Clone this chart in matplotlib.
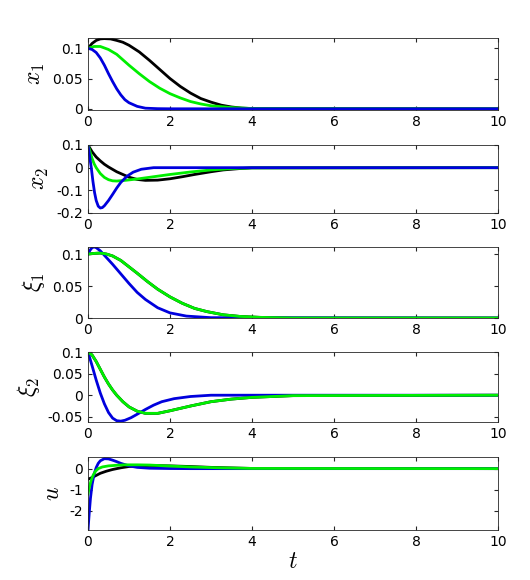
import matplotlib
matplotlib.use("Agg")
import matplotlib.pyplot as plt

plt.rcParams['mathtext.fontset'] = 'cm'

# x1
t_x1_k = [0, 0.1, 0.2, 0.3, 0.4, 0.55, 0.7, 0.85, 1.0, 1.25, 1.5, 1.75, 2.0, 2.25, 2.5, 2.75, 3.0, 3.25, 3.5, 3.75, 4.0, 10]
x1_k = [0.1, 0.108, 0.113, 0.1155, 0.116, 0.1155, 0.113, 0.11, 0.105, 0.094, 0.08, 0.065, 0.05, 0.037, 0.026, 0.017, 0.011, 0.006, 0.003, 0.0012, 0.0004, 0]
t_x1_g = [0, 0.15, 0.3, 0.5, 0.7, 0.85, 1.0, 1.25, 1.5, 1.75, 2.0, 2.25, 2.5, 2.75, 3.0, 3.5, 4.0, 10]
x1_g = [0.1, 0.103, 0.103, 0.098, 0.09, 0.081, 0.072, 0.058, 0.045, 0.034, 0.025, 0.018, 0.012, 0.008, 0.005, 0.002, 0.0005, 0]
t_x1_b = [0, 0.1, 0.2, 0.3, 0.4, 0.5, 0.6, 0.7, 0.8, 0.9, 1.0, 1.2, 1.4, 1.7, 2.0, 10]
x1_b = [0.1, 0.098, 0.093, 0.084, 0.072, 0.058, 0.045, 0.033, 0.023, 0.015, 0.01, 0.004, 0.001, 0.0002, 0, 0]
# x2
t_x2_k = [0, 0.1, 0.2, 0.3, 0.4, 0.5, 0.7, 0.85, 1.0, 1.2, 1.4, 1.7, 2.0, 2.3, 2.6, 3.0, 3.3, 3.7, 4.0, 10]
x2_k = [0.1, 0.07, 0.047, 0.03, 0.015, 0.003, -0.018, -0.03, -0.042, -0.052, -0.056, -0.055, -0.049, -0.04, -0.03, -0.018, -0.01, -0.004, -0.001, 0]
t_x2_g = [0, 0.05, 0.1, 0.15, 0.2, 0.3, 0.4, 0.5, 0.6, 0.7, 0.9, 1.2, 1.6, 2.0, 2.5, 3.0, 3.5, 4.0, 10]
x2_g = [0.1, 0.07, 0.04, 0.017, 0.0, -0.026, -0.043, -0.053, -0.058, -0.059, -0.056, -0.05, -0.04, -0.03, -0.019, -0.01, -0.004, -0.001, 0]
t_x2_b = [0, 0.04, 0.08, 0.12, 0.16, 0.2, 0.25, 0.3, 0.35, 0.4, 0.5, 0.6, 0.7, 0.8, 0.95, 1.1, 1.3, 1.6, 10]
x2_b = [0.1, 0.05, 0.0, -0.06, -0.11, -0.145, -0.17, -0.178, -0.176, -0.168, -0.145, -0.118, -0.09, -0.065, -0.038, -0.02, -0.007, 0, 0]
# xi1
t_xi1_b = [0, 0.05, 0.1, 0.15, 0.2, 0.3, 0.4, 0.5, 0.6, 0.8, 1.0, 1.2, 1.4, 1.7, 2.0, 2.4, 3.0, 10]
xi1_b = [0.1, 0.106, 0.11, 0.111, 0.11, 0.105, 0.098, 0.091, 0.084, 0.069, 0.054, 0.04, 0.029, 0.016, 0.008, 0.003, 0.0005, 0]
t_xi1_g = [0, 0.15, 0.3, 0.45, 0.6, 0.8, 1.0, 1.2, 1.45, 1.7, 2.0, 2.3, 2.6, 2.9, 3.3, 3.7, 4.2, 5.0, 10]
xi1_g = [0.1, 0.101, 0.1015, 0.1, 0.097, 0.09, 0.08, 0.07, 0.057, 0.045, 0.033, 0.023, 0.015, 0.01, 0.005, 0.0025, 0.001, 0, 0]
# xi2
t_xi2_b = [0, 0.1, 0.2, 0.3, 0.4, 0.5, 0.6, 0.7, 0.8, 0.9, 1.05, 1.2, 1.4, 1.6, 1.8, 2.1, 2.5, 3.0, 10]
xi2_b = [0.1, 0.068, 0.035, 0.005, -0.02, -0.04, -0.053, -0.059, -0.06, -0.058, -0.052, -0.044, -0.033, -0.023, -0.015, -0.008, -0.003, 0, 0]
t_xi2_g = [0, 0.1, 0.2, 0.3, 0.4, 0.5, 0.6, 0.7, 0.85, 1.0, 1.2, 1.4, 1.7, 2.0, 2.5, 3.0, 3.5, 4.0, 5.0, 10]
xi2_g = [0.1, 0.093, 0.078, 0.06, 0.042, 0.026, 0.012, 0.0, -0.015, -0.027, -0.037, -0.042, -0.042, -0.036, -0.025, -0.015, -0.009, -0.005, -0.001, 0]
# u
t_u_b = [0, 0.03, 0.06, 0.1, 0.15, 0.2, 0.25, 0.3, 0.4, 0.5, 0.6, 0.7, 0.8, 1.0, 1.2, 1.5, 2.0, 2.5, 10]
u_b = [-2.9, -2.1, -1.4, -0.75, -0.25, 0.05, 0.25, 0.37, 0.47, 0.46, 0.4, 0.33, 0.25, 0.13, 0.06, 0.02, 0.005, 0, 0]
t_u_g = [0, 0.03, 0.07, 0.12, 0.18, 0.25, 0.35, 0.5, 0.7, 0.9, 1.2, 1.5, 1.8, 2.5, 3.2, 4.0, 10]
u_g = [-1.2, -0.9, -0.6, -0.33, -0.13, 0.0, 0.08, 0.13, 0.16, 0.18, 0.18, 0.17, 0.14, 0.08, 0.04, 0.01, 0]
t_u_k = [0, 0.1, 0.2, 0.3, 0.45, 0.6, 0.8, 1.0, 1.25, 1.5, 2.0, 2.5, 3.0, 4.0, 10]
u_k = [-0.5, -0.42, -0.32, -0.22, -0.12, -0.04, 0.04, 0.1, 0.13, 0.15, 0.13, 0.1, 0.06, 0.01, 0]

K, G, B = "black", "#00ee00", "#0000dd"

fig = plt.figure(figsize=(5.3, 5.8), dpi=100)
W, H = 530, 580
lefts = 88 / W
width = (498 - 88) / W
rows = [(38, 110), (145, 213), (247, 318), (352, 422), (457, 530)]
axes = []
for top, bot in rows:
    axes.append(fig.add_axes([lefts, 1 - bot / H, width, (bot - top) / H]))

def line(ax, t, y, c):
    ax.plot(t, y, color=c, lw=2, solid_joinstyle="round")

ax = axes[0]
line(ax, t_x1_k, x1_k, K); line(ax, t_x1_g, x1_g, G); line(ax, t_x1_b, x1_b, B)
ax.set_ylim(-0.002, 0.117); ax.set_yticks([0, 0.05, 0.1]); ax.set_yticklabels(["0", "0.05", "0.1"])
ax.set_ylabel(r"$x_1$", fontsize=17)
ax = axes[1]
line(ax, t_x2_k, x2_k, K); line(ax, t_x2_g, x2_g, G); line(ax, t_x2_b, x2_b, B)
ax.set_ylim(-0.2, 0.1); ax.set_yticks([-0.2, -0.1, 0, 0.1]); ax.set_yticklabels(["-0.2", "-0.1", "0", "0.1"])
ax.set_ylabel(r"$x_2$", fontsize=17)
ax = axes[2]
line(ax, t_xi1_g, xi1_g, K); line(ax, t_xi1_b, xi1_b, B); line(ax, t_xi1_g, xi1_g, G)
ax.set_ylim(0, 0.111); ax.set_yticks([0, 0.05, 0.1]); ax.set_yticklabels(["0", "0.05", "0.1"])
ax.set_ylabel(r"$\xi_1$", fontsize=17)
ax = axes[3]
line(ax, t_xi2_g, xi2_g, K); line(ax, t_xi2_b, xi2_b, B); line(ax, t_xi2_g, xi2_g, G)
ax.set_ylim(-0.062, 0.1); ax.set_yticks([-0.05, 0, 0.05, 0.1]); ax.set_yticklabels(["-0.05", "0", "0.05", "0.1"])
ax.set_ylabel(r"$\xi_2$", fontsize=17)
ax = axes[4]
line(ax, t_u_k, u_k, K); line(ax, t_u_b, u_b, B); line(ax, t_u_g, u_g, G)
ax.set_ylim(-2.9, 0.55); ax.set_yticks([-2, -1, 0]); ax.set_yticklabels(["-2", "-1", "0"])
ax.set_ylabel(r"$u$", fontsize=17)
ax.set_xlabel(r"$t$", fontsize=17, labelpad=0)

for ax in axes:
    ax.set_xlim(0, 10)
    ax.set_xticks([0, 2, 4, 6, 8, 10])
    ax.tick_params(direction="in", top=True, right=True, labelsize=10, length=3, color="#262626")
    for s in ax.spines.values():
        s.set_color("#262626"); s.set_linewidth(0.6)

fig.savefig("out.png", dpi=100)
